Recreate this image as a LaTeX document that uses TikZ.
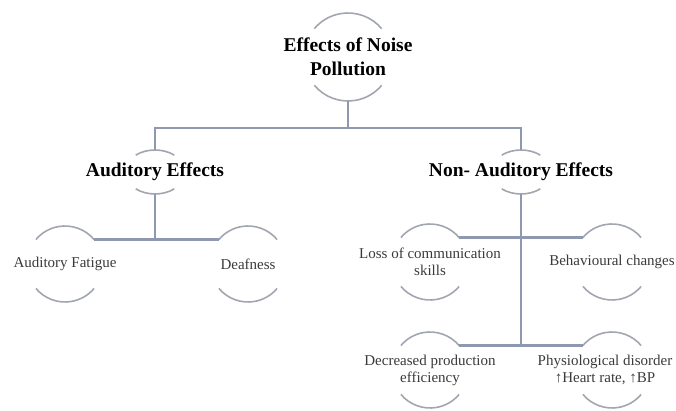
\documentclass[tikz,border=0pt]{standalone}
\usepackage{fontspec}
\setmainfont{Liberation Serif}
\usetikzlibrary{calc}
\begin{document}
\begin{tikzpicture}[x=1pt,y=1pt,
  conn/.style={draw=lineblue,line width=2.2pt},
  arcl/.style={draw=arcgray,line width=1.6pt},
  title/.style={font=\bfseries\fontsize{19.5}{24}\selectfont,text=black,align=center,inner sep=0pt,outer sep=0pt},
  leaf/.style={inner sep=0pt,outer sep=0pt,font=\fontsize{15}{17}\selectfont,text=textgray,align=center},
]
\definecolor{lineblue}{HTML}{8E98AF}
\definecolor{arcgray}{HTML}{A2A6B0}
\definecolor{textgray}{HTML}{3A3A3A}
\useasboundingbox (0,0) rectangle (676,411);
% nodes
\node[title] (root) at (348,354) {Effects of Noise\\Pollution};
\node[title] (aud) at (155,239) {Auditory Effects};
\node[title] (nonaud) at (521,239) {Non- Auditory Effects};
\node[leaf] (fatigue) at (65,147) {Auditory Fatigue};
\node[leaf] (deaf) at (248,147) {Deafness};
\node[leaf] (loss) at (430,149) {Loss of communication\\skills};
\node[leaf] (behav) at (612,149) {Behavioural changes};
\node[leaf] (decr) at (430,41) {Decreased production\\efficiency};
\coordinate (physc) at (612,41);
\node[leaf] (phys) at (605,41) {Physiological disorder\\↑Heart rate, ↑BP};
% arcs
\draw[arcl] ($(root.center)+(40:44)$) arc[start angle=40,end angle=140,radius=44];
\draw[arcl] ($(root.center)+(220:44)$) arc[start angle=220,end angle=320,radius=44];
\foreach \n in {aud,nonaud}{
  \draw[arcl] ($(\n.center)+(50:30 and 22)$) arc[start angle=50,end angle=130,x radius=30,y radius=22];
  \draw[arcl] ($(\n.center)+(230:30 and 22)$) arc[start angle=230,end angle=310,x radius=30,y radius=22];
}
\foreach \n in {fatigue,deaf,loss,behav,decr,physc}{
  \draw[arcl] ($(\n)+(40:38)$) arc[start angle=40,end angle=140,radius=38];
  \draw[arcl] ($(\n)+(220:38)$) arc[start angle=220,end angle=320,radius=38];
}
% connectors
\coordinate (j) at (348,283);
\coordinate (rootb) at ($(root.center)+(0,-44)$);
\coordinate (audt) at ($(aud.center)+(0,22)$);
\coordinate (audb) at ($(aud.center)+(0,-22)$);
\coordinate (nont) at ($(nonaud.center)+(0,22)$);
\coordinate (nonb) at ($(nonaud.center)+(0,-22)$);
\coordinate (fa) at ($(fatigue.center)+(40:38)$);
\coordinate (de) at ($(deaf.center)+(140:38)$);
\coordinate (lo) at ($(loss.center)+(40:38)$);
\coordinate (be) at ($(behav.center)+(140:38)$);
\coordinate (dc) at ($(decr.center)+(40:38)$);
\coordinate (ph) at ($(physc)+(140:38)$);
\draw[conn] (rootb) -- (j);
\draw[conn] (audt) |- (j) -| (nont);
\draw[conn] (audb) -- (audb |- fa);
\draw[conn] (fa) -- (de);
\draw[conn] (nonb) -- (nonb |- dc);
\draw[conn] (lo) -- (be);
\draw[conn] (dc) -- (ph);
\end{tikzpicture}
\end{document}
